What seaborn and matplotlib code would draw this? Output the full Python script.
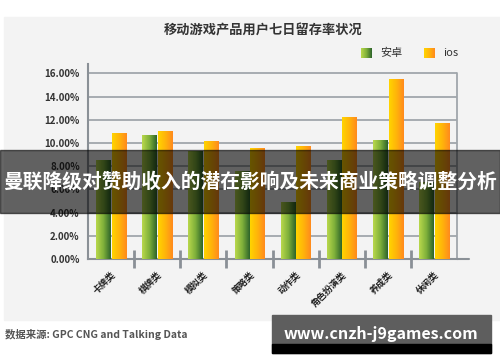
import numpy as np
import pandas as pd
import seaborn as sns
import matplotlib.pyplot as plt
from matplotlib.colors import LinearSegmentedColormap
from matplotlib.patches import Rectangle

# 数据
categories = ["卡牌类", "棋牌类", "模拟类", "策略类", "动作类", "角色扮演类", "养成类", "休闲类"]
series = ["安卓", "ios"]
android = [8.5, 10.6, 9.3, 7.5, 4.9, 8.45, 10.2, 6.6]
ios = [10.8, 10.95, 10.15, 9.55, 9.65, 12.2, 15.5, 11.65]
yticks = [0, 2, 4, 6, 8, 10, 12, 14, 16]

title = "移动游戏产品用户七日留存率状况"
banner = "曼联降级对赞助收入的潜在影响及未来商业策略调整分析"
source = "数据来源: GPC CNG and Talking Data"
site = "www.cnzh-j9games.com"

df = pd.DataFrame({
    "类别": categories * 2,
    "系列": [series[0]] * len(categories) + [series[1]] * len(categories),
    "留存率": android + ios,
})

sns.set_theme(style="white")
plt.rcParams["font.family"] = ["Noto Sans CJK SC", "DejaVu Sans"]

green = LinearSegmentedColormap.from_list("g", ["#b9d84c", "#7fb03a", "#2d642b"])
orange = LinearSegmentedColormap.from_list("o", ["#ffd400", "#ffb40a", "#ff8a1e"])
grad = np.linspace(0, 1, 64).reshape(1, -1)

fig = plt.figure(figsize=(5, 3.62), dpi=100)
fig.patch.set_facecolor("white")
# 灰色底板
fig.add_artist(Rectangle((4 / 500, 1 - 320 / 362), 496 / 500, 303 / 362,
                         transform=fig.transFigure, color="#f3f3f3", zorder=-1))

ax = fig.add_axes([0.176, 0.2845, 0.738, 0.5387])
ax.set_facecolor("none")
sns.barplot(data=df, x="类别", y="留存率", hue="系列", order=categories,
            hue_order=series, width=0.68, gap=0.1, legend=False, ax=ax)

# 渐变柱子
n = len(categories)
for i, p in enumerate(list(ax.patches)):
    x, w, h = p.get_x(), p.get_width(), p.get_height()
    p.set_facecolor("none")
    p.set_edgecolor("none")
    ax.imshow(grad, extent=[x, x + w, 0, h], aspect="auto",
              cmap=green if i < n else orange, zorder=3)

ax.set_xlim(-0.5, n - 0.5)
ax.set_ylim(0, 16.8)
ax.set_yticks(yticks)
ax.set_yticklabels([f"{v:.2f}%" for v in yticks], fontsize=7, fontweight="bold", color="#333333")
ax.set_xticks(range(n))
ax.set_xticklabels(categories, rotation=45, ha="right", rotation_mode="anchor",
                   fontsize=6.5, fontweight="bold", color="#222222")
ax.set_xticks(np.arange(0.5, n - 1, 1), minor=True)
ax.tick_params(axis="x", which="major", length=0, pad=8)
ax.tick_params(axis="x", which="minor", bottom=True, length=13, width=2,
               direction="inout", color="#8a9096")
ax.tick_params(axis="y", length=0, pad=6)
ax.set_xlabel("")
ax.set_ylabel("")

ax.yaxis.grid(True, color="#a0a6ab", lw=1.3)
ax.set_axisbelow(True)
for s in ["top", "right"]:
    ax.spines[s].set_visible(False)
for s in ["left", "bottom"]:
    ax.spines[s].set_color("#8a9096")
    ax.spines[s].set_linewidth(1.5)
ax.plot([n - 0.5, n - 0.5], [0, 16], color="#a0a6ab", lw=1.3, clip_on=False, zorder=1)
ax.plot([n - 0.5, n - 0.25], [0, 0], color="#8a9096", lw=1.5, clip_on=False)

# 标题和图例
fig.text(263 / 500, 1 - 30 / 362, title, ha="center", va="center",
         fontsize=9.5, fontweight="bold", color="#333333")
for x0, cm, lab in [(361, green, series[0]), (424, orange, series[1])]:
    la = fig.add_axes([x0 / 500, 1 - 58 / 362, 11 / 500, 10 / 362])
    la.imshow(grad, aspect="auto", cmap=cm)
    la.axis("off")
    fig.text((x0 + 19) / 500, 1 - 53 / 362, lab, va="center", fontsize=8, color="#333333")

# 横幅
fig.add_artist(Rectangle((0, 1 - 213 / 362), 1, 63 / 362, transform=fig.transFigure,
                         color="black", alpha=0.6, zorder=10))
fig.text(0.5, 1 - 182 / 362, banner, ha="center", va="center", fontsize=14.2,
         fontweight="bold", color="white", zorder=11)

# 数据来源
fig.text(5 / 500, 1 - 334 / 362, source, va="center", fontsize=7.5,
         fontweight="bold", color="#555555")

# 网址水印
fig.add_artist(Rectangle((272 / 500, 1 - 353 / 362), 219 / 500, 38 / 362,
                         transform=fig.transFigure, color="#5e5e5e", zorder=10))
fig.add_artist(Rectangle((272 / 500, 1 - 353 / 362), 219 / 500, 9 / 362,
                         transform=fig.transFigure, color="black", zorder=10))
fig.text(381 / 500, 1 - 334 / 362, site, ha="center", va="center", fontsize=11.5,
         fontweight="bold", color="white", zorder=11)

fig.savefig("out.png", dpi=100)
